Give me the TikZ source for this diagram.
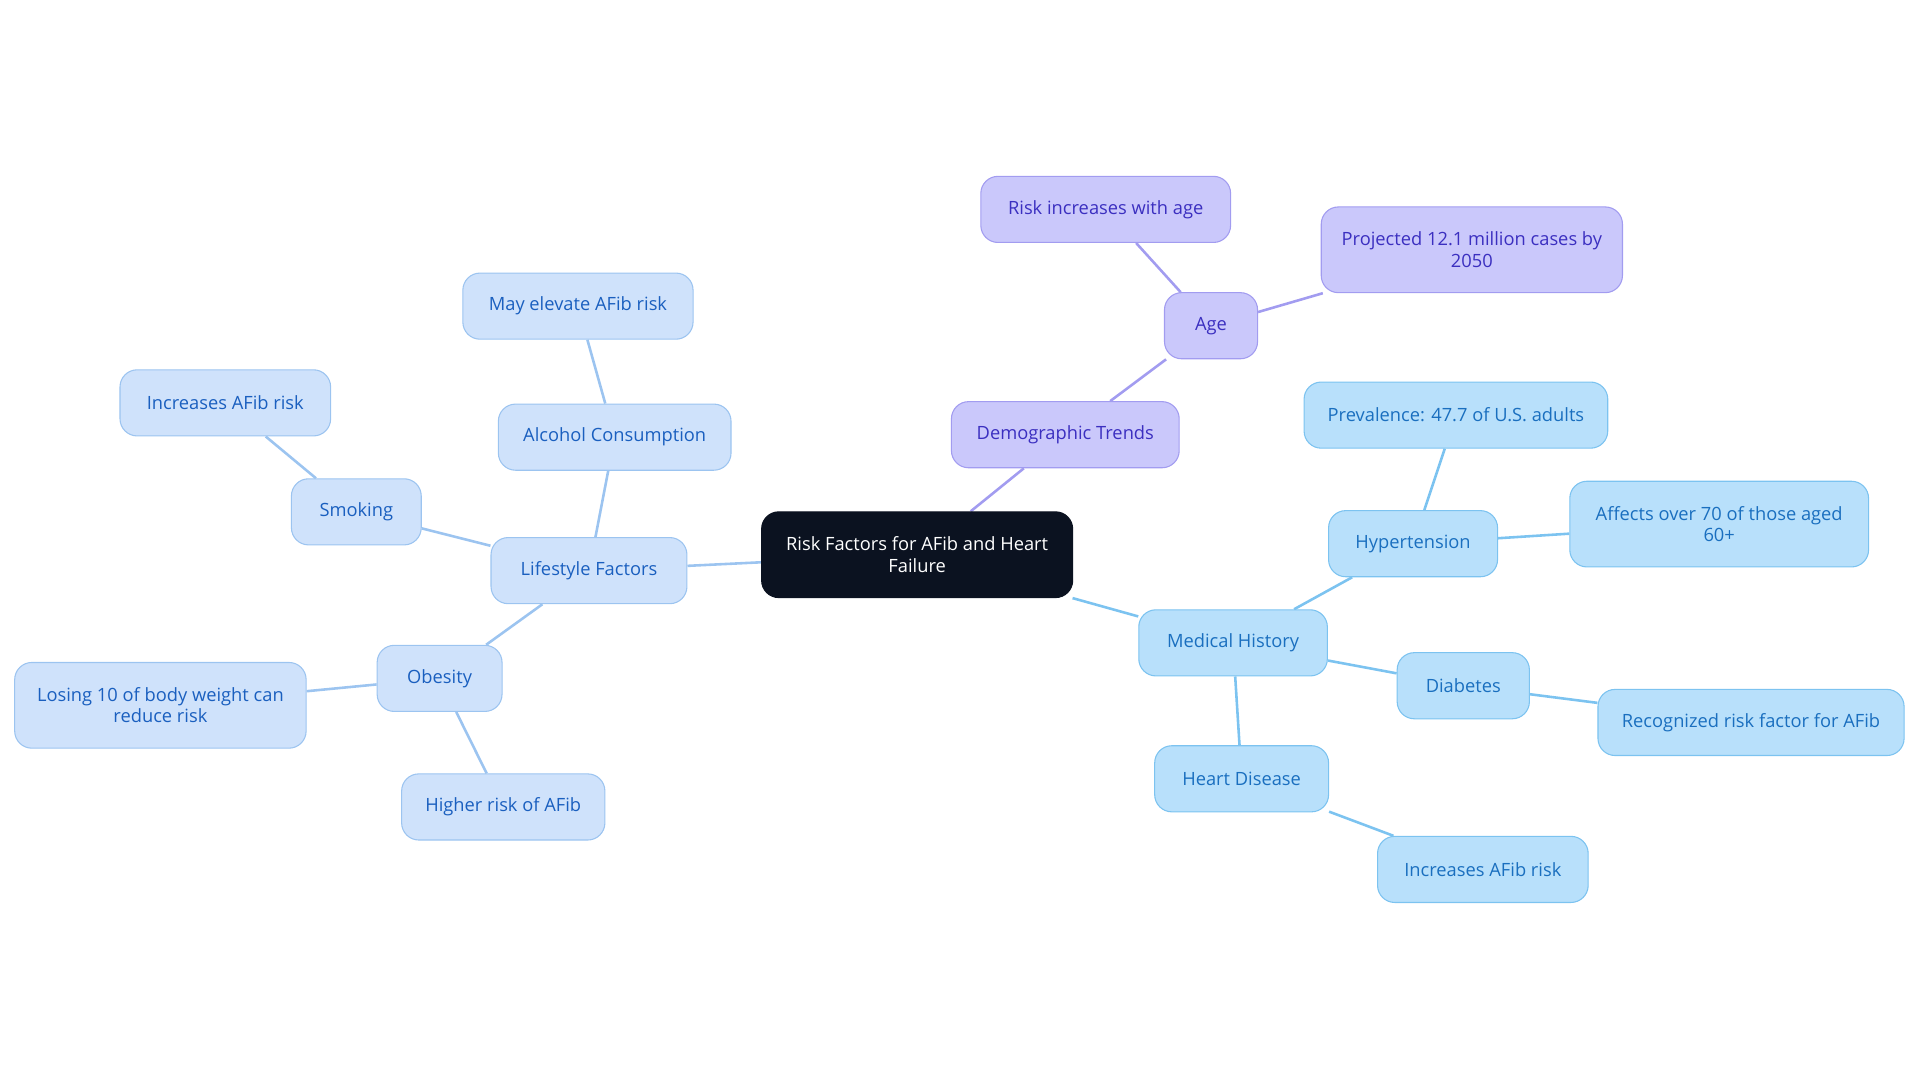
\documentclass[tikz,border=0pt]{standalone}
\usepackage{fontspec}
\setmainfont{Open Sans}
\usetikzlibrary{backgrounds}
\definecolor{rootfill}{HTML}{0B1220}
\definecolor{purfill}{HTML}{CAC8FB}
\definecolor{purline}{HTML}{A29CF0}
\definecolor{purtext}{HTML}{3B2FC0}
\definecolor{medfill}{HTML}{B8E0FB}
\definecolor{medline}{HTML}{7CC3F0}
\definecolor{medtext}{HTML}{1A6FBF}
\definecolor{lifefill}{HTML}{CFE2FB}
\definecolor{lifeline}{HTML}{9CC4F0}
\definecolor{lifetext}{HTML}{1A5FBF}
\tikzset{box/.style={rounded corners=2.8mm, line width=0.5pt, align=center,
    font=\fontsize{8.5}{10}\selectfont, inner sep=0pt, minimum height=10.8mm}}
\tikzset{root/.style={box, fill=rootfill, draw=rootfill, text=white}}
\tikzset{demo/.style={box, fill=purfill, draw=purline, text=purtext}}
\tikzset{med/.style={box, fill=medfill, draw=medline, text=medtext}}
\tikzset{life/.style={box, fill=lifefill, draw=lifeline, text=lifetext}}
\tikzset{link/.style={line width=1.2pt}}

\begin{document}
\begin{tikzpicture}[x=0.2mm, y=-0.2mm]
    \useasboundingbox (0,0) rectangle (1568,884);
    \node [root, minimum width=50.8mm, minimum height=14mm] (risk) at (749,453) {Risk Factors for AFib and Heart\\Failure};
    % demographic branch
    \node [demo, minimum width=37.2mm] (demog) at (870,355) {Demographic Trends};
    \node [demo, minimum width=15.2mm] (age) at (989,266) {Age};
    \node [demo, minimum width=40.8mm] (agerisk) at (903,171) {Risk increases with age};
    \node [demo, minimum width=49.2mm, minimum height=14mm] (proj) at (1202,204) {Projected 12.1 million cases by\\2050};
    % medical branch
    \node [med, minimum width=30.8mm] (medhist) at (1007,525) {Medical History};
    \node [med, minimum width=27.6mm] (hyper) at (1154,444) {Hypertension};
    \node [med, minimum width=49.6mm] (preval) at (1189,339) {Prevalence: 47.7 of U.S. adults};
    \node [med, minimum width=48.8mm, minimum height=14mm] (aged) at (1404,428) {Affects over 70 of those aged\\60+};
    \node [med, minimum width=21.6mm] (diab) at (1195,560) {Diabetes};
    \node [med, minimum width=50mm] (recog) at (1430,590) {Recognized risk factor for AFib};
    \node [med, minimum width=28.4mm] (heart) at (1014,636) {Heart Disease};
    \node [med, minimum width=34.4mm] (heartrisk) at (1211,710) {Increases AFib risk};
    % lifestyle branch
    \node [life, minimum width=32mm] (life) at (481,466) {Lifestyle Factors};
    \node [life, minimum width=38mm] (alcohol) at (502,357) {Alcohol Consumption};
    \node [life, minimum width=37.6mm] (alcrisk) at (472,250) {May elevate AFib risk};
    \node [life, minimum width=21.2mm] (smoke) at (291,418) {Smoking};
    \node [life, minimum width=34.4mm] (smokerisk) at (184,329) {Increases AFib risk};
    \node [life, minimum width=20.4mm] (obese) at (359,554) {Obesity};
    \node [life, minimum width=47.6mm, minimum height=14mm] (weight) at (131,576) {Losing 10 of body weight can\\reduce risk};
    \node [life, minimum width=33.2mm] (obrisk) at (411,659) {Higher risk of AFib};
    \begin{scope}[on background layer]
        \draw [link, purline] (risk) -- (demog) -- (age) -- (agerisk);
        \draw [link, purline] (age) -- (proj);
        \draw [link, medline] (risk) -- (medhist) -- (hyper) -- (preval);
        \draw [link, medline] (hyper) -- (aged);
        \draw [link, medline] (medhist) -- (diab) -- (recog);
        \draw [link, medline] (medhist) -- (heart) -- (heartrisk);
        \draw [link, lifeline] (risk) -- (life) -- (alcohol) -- (alcrisk);
        \draw [link, lifeline] (life) -- (smoke) -- (smokerisk);
        \draw [link, lifeline] (life) -- (obese) -- (weight);
        \draw [link, lifeline] (obese) -- (obrisk);
    \end{scope}
\end{tikzpicture}
\end{document}
